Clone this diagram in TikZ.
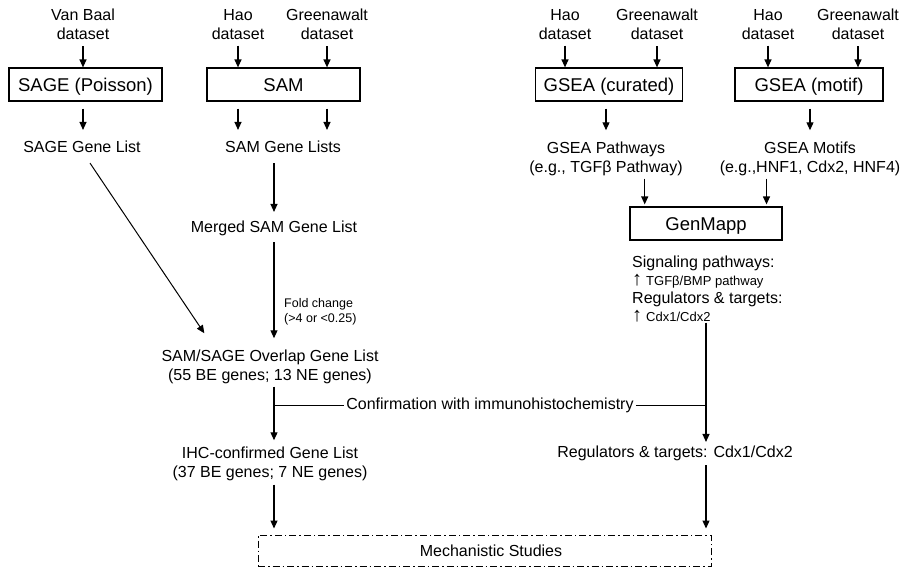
\documentclass[tikz,border=0pt]{standalone}
\usepackage{fontspec}
\setmainfont{Liberation Sans}
\usetikzlibrary{arrows.meta,calc}
\newcommand{\uparr}{{\fontsize{20}{18}\selectfont ↑}}
\begin{document}
\begin{tikzpicture}[x=1pt,y=-1pt,
  lbl/.style={inner sep=0pt, align=center, font=\fontsize{16}{19}\selectfont},
  small/.style={inner sep=0pt, align=left, font=\fontsize{12.5}{15}\selectfont},
  box/.style={draw, line width=1.2pt, minimum height=33pt, inner sep=0pt,
    text height=13pt, text depth=0pt, font=\fontsize{18.5}{22}\selectfont},
  arr/.style={line width=1.2pt, -{Triangle[length=8pt,width=7pt]}},
  ln/.style={line width=1.2pt},
  dashdotbox/.style={draw, line width=1pt, dash pattern=on 7pt off 3pt on 1.5pt off 3pt,
    minimum height=31pt, inner sep=0pt, font=\fontsize{16}{19}\selectfont}]
\useasboundingbox (0,0) rectangle (908,570);

% dataset labels
\node[lbl, anchor=north] (vb)   at (83,9)  {Van Baal\\dataset};
\node[lbl, anchor=north] (hao1) at (238,9) {Hao\\dataset};
\node[lbl, anchor=north] (gw1)  at (327,9) {Greenawalt\\dataset};
\node[lbl, anchor=north] (hao2) at (565,9) {Hao\\dataset};
\node[lbl, anchor=north] (gw2)  at (657,9) {Greenawalt\\dataset};
\node[lbl, anchor=north] (hao3) at (768,9) {Hao\\dataset};
\node[lbl, anchor=north] (gw3)  at (858,9) {Greenawalt\\dataset};

% boxes
\node[box, minimum width=153pt] (sage)    at (85.5,84.5) {SAGE (Poisson)};
\node[box, minimum width=153pt] (sam)     at (283.5,84.5) {SAM};
\node[box, minimum width=147pt] (curated) at (609,84.5) {GSEA (curated)};
\node[box, minimum width=148pt] (motif)   at (809,84.5) {GSEA (motif)};
\node[box, minimum width=152pt] (genmapp) at (706,223.5) {GenMapp};

% arrows into boxes
\draw[arr, shorten <=6pt] (vb.south) -- (vb |- sage.north);
\draw[arr, shorten <=6pt] (hao1.south) -- (hao1 |- sam.north);
\draw[arr, shorten <=6pt] (gw1.south) -- (gw1 |- sam.north);
\draw[arr, shorten <=6pt] (hao2.south) -- (hao2 |- curated.north);
\draw[arr, shorten <=6pt] (gw2.south) -- (gw2 |- curated.north);
\draw[arr, shorten <=6pt] (hao3.south) -- (hao3 |- motif.north);
\draw[arr, shorten <=6pt] (gw3.south) -- (gw3 |- motif.north);

% labels below boxes
\node[lbl, anchor=base] (sagelist) at (82,152.75) {SAGE Gene List};
\node[lbl, anchor=base] (samlist)  at (283,152.75) {SAM Gene Lists};
\node[lbl, anchor=north] (gseap) at (606,141.25) {GSEA Pathways\\(e.g., TGFβ Pathway)};
\node[lbl, anchor=north] (gseam) at (810,141.25) {GSEA Motifs\\(e.g.,HNF1, Cdx2, HNF4)};

\draw[arr, shorten <=7pt, shorten >=11pt] (vb |- sage.south) -- (vb |- sagelist.north);
\draw[arr, shorten <=7pt, shorten >=11pt] (hao1 |- sam.south) -- (hao1 |- samlist.north);
\draw[arr, shorten <=7pt, shorten >=11pt] (gw1 |- sam.south) -- (gw1 |- samlist.north);
\draw[arr, shorten <=7pt, shorten >=11pt] (gseap.north |- curated.south) -- (gseap.north);
\draw[arr, shorten <=7pt, shorten >=11pt] (gseam.north |- motif.south) -- (gseam.north);

% into GenMapp
\coordinate (g1) at ($(genmapp.north west)!0.1!(genmapp.north east)$);
\coordinate (g2) at ($(genmapp.north west)!0.895!(genmapp.north east)$);
\draw[arr, shorten <=3pt, shorten >=2pt] (g1 |- gseap.south) -- (g1);
\draw[arr, shorten <=3pt, shorten >=2pt] (g2 |- gseap.south) -- (g2);

% GenMapp result text
\node[inner sep=0pt, align=left, anchor=north west, font=\fontsize{16}{18}\selectfont] (gmtext) at (632,256)
  {Signaling pathways:\\
   \uparr\hspace{4pt}{\fontsize{13}{15}\selectfont TGFβ/BMP pathway}\\
   Regulators \& targets:\\
   \uparr\hspace{4pt}{\fontsize{13}{15}\selectfont Cdx1/Cdx2}};

% left column
\node[lbl, anchor=base] (merged) at (274,232.75) {Merged SAM Gene List};
\draw[arr, shorten <=10pt, shorten >=9pt] (merged |- samlist.south) -- (merged.north);

\node[lbl, anchor=north] (overlap) at (270,349.25) {SAM/SAGE Overlap Gene List\\(55 BE genes; 13 NE genes)};
\draw[arr, shorten <=6pt, shorten >=11pt] (merged.south) -- (merged |- overlap.north);

\node[small, anchor=north west] (fold) at (284,298.5) {Fold change\\(>4 or <0.25)};

\draw[arr, line width=1pt] ($(sagelist.south)+(8,10)$) -- ($(overlap.north west)+(43,-16)$);

\node[lbl, anchor=north] (ihc) at (270,446.25) {IHC-confirmed Gene List\\(37 BE genes; 7 NE genes)};
\draw[arr, shorten <=3pt, shorten >=6pt] (merged |- overlap.south) -- (merged |- ihc.north);

% confirmation line
\node[lbl, anchor=base, inner xsep=2pt] (conf) at (490,409.75) {Confirmation with immunohistochemistry};
\coordinate (br) at ($(merged |- overlap.south)+(0,22)$);
\draw[ln] (br) -- (conf.west |- br);
\draw[ln] (conf.east |- br) -- (br -| genmapp.center);

% right column lower
\node[lbl, anchor=base] (reg) at (675,457.75) {Regulators \& targets: Cdx1/Cdx2};
\draw[arr, shorten >=4pt] (genmapp.center |- gmtext.south) -- (genmapp.center |- reg.north);

% mechanistic
\node[dashdotbox, minimum width=453pt] (mech) at (484.5,550.5) {\hspace*{13pt}Mechanistic Studies};
\draw[arr, shorten <=4pt, shorten >=6pt] (merged |- ihc.south) -- (merged |- mech.north);
\draw[arr, shorten <=4pt, shorten >=6pt] (genmapp.center |- reg.south) -- (genmapp.center |- mech.north);
\end{tikzpicture}
\end{document}
